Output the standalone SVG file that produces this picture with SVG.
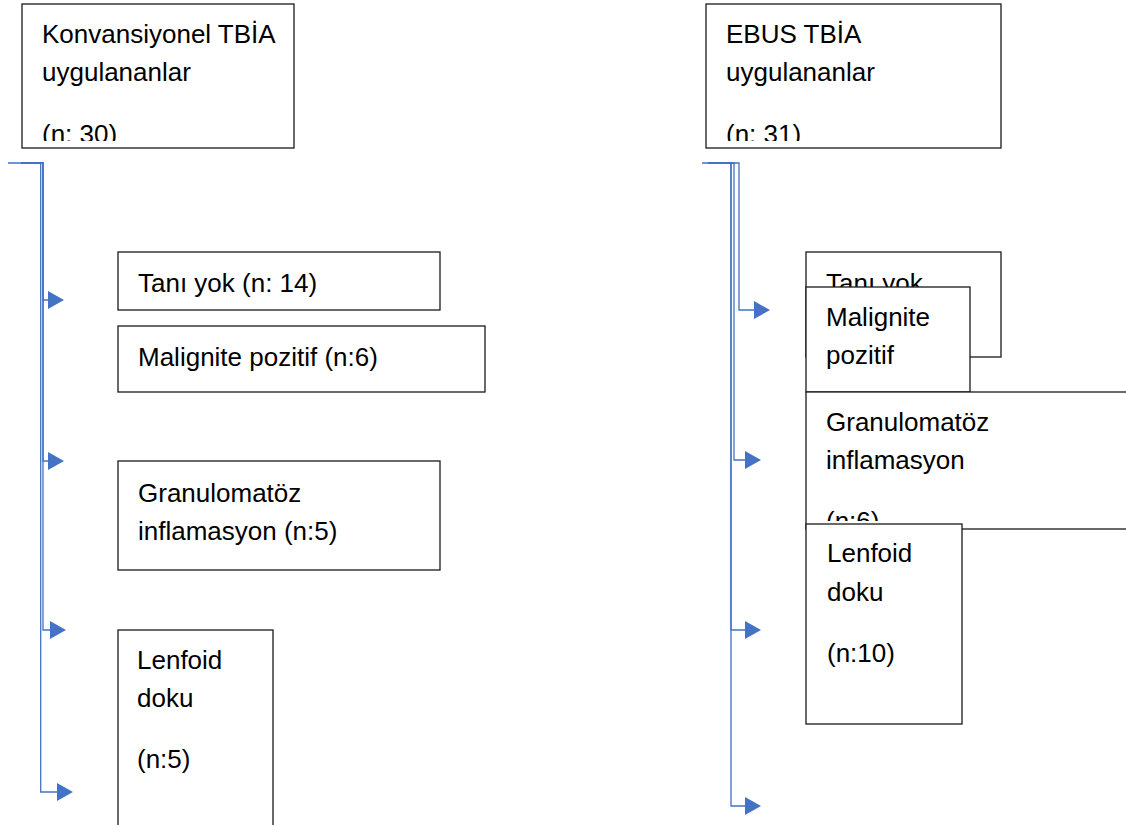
<svg xmlns="http://www.w3.org/2000/svg" width="1126" height="825" viewBox="0 0 1126 825">
<style>
.box{fill:#fff;stroke:#1a1a1a;stroke-width:1.3}
.t{font-family:"Liberation Sans",Arial,sans-serif;font-size:26px;fill:#000}
.c{fill:none;stroke:#4472C4;stroke-width:1.3}
</style>
<defs>
<marker id="ah" markerUnits="userSpaceOnUse" markerWidth="17" markerHeight="18" refX="0" refY="9" orient="auto" viewBox="0 0 17 18">
<path d="M0,0 L16,9 L0,18 z" fill="#4472C4"/>
</marker>
<clipPath id="clipL0"><rect x="22" y="4" width="272" height="137"/></clipPath>
<clipPath id="clipR0"><rect x="706" y="4" width="295" height="137"/></clipPath>
<clipPath id="clipRG"><rect x="806" y="392" width="330" height="129"/></clipPath>
</defs>
<g id="connectors">
<path class="c" d="M8,163 H43 V300 H48" marker-end="url(#ah)"/>
<path class="c" d="M21,163 H43 V461 H48" marker-end="url(#ah)"/>
<path class="c" d="M21,163 H43 V630 H50" marker-end="url(#ah)"/>
<path class="c" d="M21,163 H40.7 V792 H57" marker-end="url(#ah)"/>
<path class="c" d="M702,163 H739 V310 H754" marker-end="url(#ah)"/>
<path class="c" d="M708,163 H734 V460 H745" marker-end="url(#ah)"/>
<path class="c" d="M708,163 H731 V630 H745" marker-end="url(#ah)"/>
<path class="c" d="M708,163 H731 V806 H745" marker-end="url(#ah)"/>
</g>
<g id="left-top">
<rect class="box" x="22" y="4" width="272" height="144"/>
<g clip-path="url(#clipL0)">
<text class="t" x="42" y="43">Konvansiyonel TBİA</text>
<text class="t" x="42" y="81">uygulananlar</text>
<text class="t" x="42" y="143">(n: 30)</text>
</g>
</g>
<g id="right-top">
<rect class="box" x="706" y="4" width="295" height="144"/>
<g clip-path="url(#clipR0)">
<text class="t" x="726" y="43">EBUS TBİA</text>
<text class="t" x="726" y="81">uygulananlar</text>
<text class="t" x="726" y="143">(n: 31)</text>
</g>
</g>
<g id="left-tani">
<rect class="box" x="118" y="252" width="322" height="58"/>
<text class="t" x="138" y="292">Tanı yok (n: 14)</text>
</g>
<g id="left-malignite">
<rect class="box" x="118" y="326" width="367" height="66"/>
<text class="t" x="138" y="366">Malignite pozitif (n:6)</text>
</g>
<g id="left-granulomatoz">
<rect class="box" x="118" y="461" width="322" height="109"/>
<text class="t" x="138" y="502">Granulomatöz</text>
<text class="t" x="138" y="540">inflamasyon (n:5)</text>
</g>
<g id="left-lenfoid">
<rect class="box" x="118" y="630" width="155" height="210"/>
<text class="t" x="137" y="669">Lenfoid</text>
<text class="t" x="137" y="707">doku</text>
<text class="t" x="137" y="768">(n:5)</text>
</g>
<g id="right-tani">
<rect class="box" x="806" y="252" width="195" height="105"/>
<text class="t" x="826" y="292">Tanı yok</text>
</g>
<g id="right-malignite">
<rect class="box" x="806" y="287" width="164" height="105"/>
<text class="t" x="826" y="326">Malignite</text>
<text class="t" x="826" y="364">pozitif</text>
</g>
<g id="right-granulomatoz">
<rect class="box" x="806" y="392" width="340" height="137"/>
<g clip-path="url(#clipRG)">
<text class="t" x="826" y="431">Granulomatöz</text>
<text class="t" x="826" y="469">inflamasyon</text>
<text class="t" x="826" y="530">(n:6)</text>
</g>
</g>
<g id="right-lenfoid">
<rect class="box" x="806" y="524" width="156" height="200"/>
<text class="t" x="827" y="562">Lenfoid</text>
<text class="t" x="827" y="601">doku</text>
<text class="t" x="827" y="662">(n:10)</text>
</g>
</svg>
